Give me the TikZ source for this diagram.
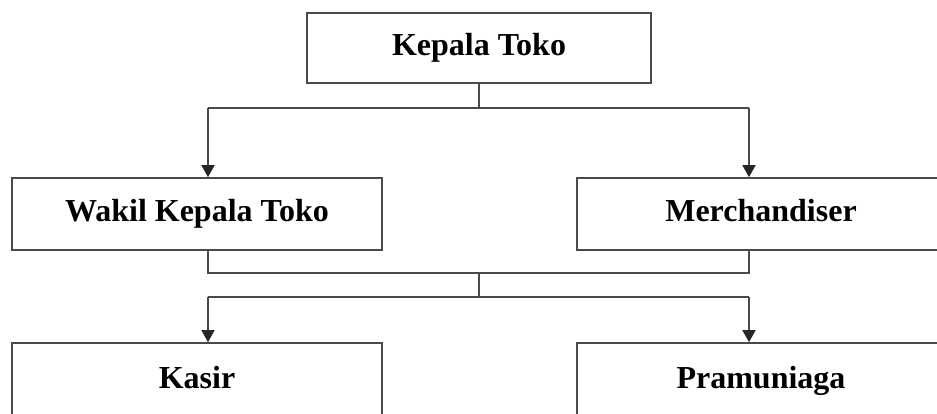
\documentclass[tikz,border=0pt]{standalone}
\usepackage{fontspec}
\setmainfont{Liberation Serif}
\usetikzlibrary{arrows.meta}
\definecolor{linegray}{HTML}{4A4A4A}
\tikzset{
  orgbox/.style={draw=linegray, line width=1.6pt, fill=white, rectangle, inner sep=0pt,
    text height=22pt, text depth=7pt,
    font=\fontsize{32}{38}\selectfont\bfseries, text=black},
  conn/.style={draw=linegray, line width=1.6pt},
  arr/.style={conn, -{Triangle[width=13pt,length=12pt,fill=black!85,color=black!85]}}
}
\begin{document}
\begin{tikzpicture}[x=1pt,y=-1pt]
\clip (0,0) rectangle (937,414);
\fill[white] (0,0) rectangle (937,414);
% boxes
\node[orgbox, minimum width=344pt, minimum height=70pt] (kt) at (479,48) {Kepala Toko};
\node[orgbox, minimum width=370pt, minimum height=72pt] (wk) at (197,214) {Wakil Kepala Toko};
\node[orgbox, minimum width=368pt, minimum height=72pt] (mc) at (761,214) {Merchandiser};
\node[orgbox, minimum width=370pt, minimum height=76pt] (ks) at (197,381) {Kasir};
\node[orgbox, minimum width=368pt, minimum height=76pt] (pm) at (761,381) {Pramuniaga};
% junction coordinates
\coordinate (j1) at (479,108);
\coordinate (j1l) at (208,108);
\coordinate (j1r) at (749,108);
\coordinate (j2l) at (208,273);
\coordinate (j2r) at (749,273);
\coordinate (j2) at (479,273);
\coordinate (j3) at (479,297);
\coordinate (j3l) at (208,297);
\coordinate (j3r) at (749,297);
% level 1 connectors
\draw[conn] (kt.south) -- (j1);
\draw[conn] (j1l) -- (j1r);
\draw[arr] (j1l) -- (j1l |- wk.north);
\draw[arr] (j1r) -- (j1r |- mc.north);
% level 2 connectors
\draw[conn] (j2l |- wk.south) -- (j2l) -- (j2r) -- (j2r |- mc.south);
\draw[conn] (j2) -- (j3);
\draw[conn] (j3l) -- (j3r);
\draw[arr] (j3l) -- (j3l |- ks.north);
\draw[arr] (j3r) -- (j3r |- pm.north);
\end{tikzpicture}
\end{document}
